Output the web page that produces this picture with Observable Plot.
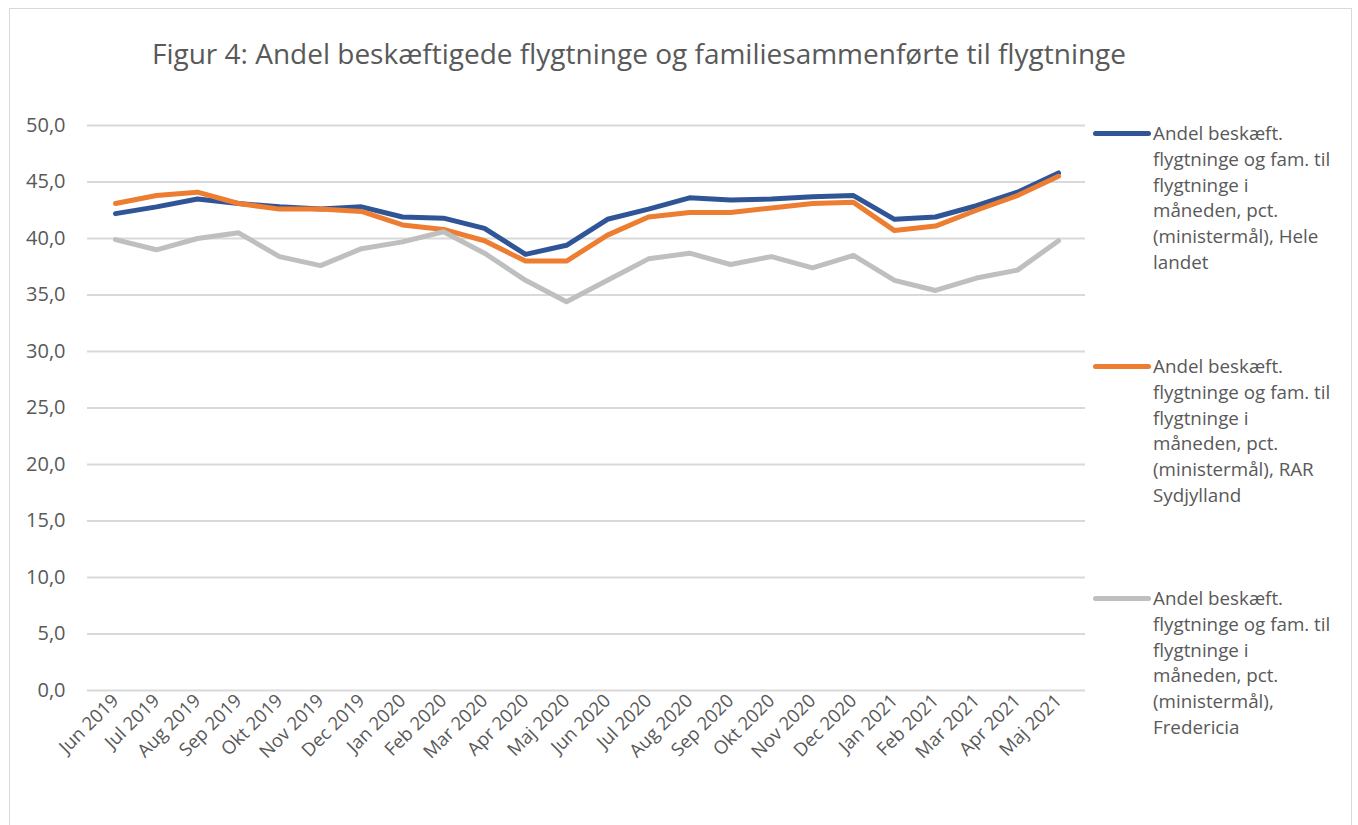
<!DOCTYPE html>
<html>
<head>
<meta charset="utf-8">
<script src="https://cdn.jsdelivr.net/npm/d3@7"></script>
<script src="https://cdn.jsdelivr.net/npm/@observablehq/plot@0.6"></script>
<style>
  html, body { margin: 0; padding: 0; background: #fff; }
  body { width: 1358px; height: 825px; position: relative; overflow: hidden; font-family: "Open Sans", sans-serif; color: #595959; }
  #frame { position: absolute; left: 9px; top: 8px; width: 1343px; height: 830px; border: 1.5px solid #d9d9d9; box-sizing: border-box; }
  #title { position: absolute; left: 0; width: 1278px; top: 34px; text-align: center; font-size: 28px; color: #595959; white-space: nowrap; }
  #chart { position: absolute; left: 0; top: 0; }
  .leg { position: absolute; left: 1093px; font-size: 18.8px; line-height: 25.8px; color: #595959; }
  .leg .sw { position: absolute; left: 0; top: 9px; width: 58px; height: 5px; border-radius: 3px; }
  .leg .tx { position: absolute; left: 60px; top: -1px; white-space: nowrap; }
</style>
</head>
<body>
<div id="frame"></div>
<div id="title">Figur 4: Andel beskæftigede flygtninge og familiesammenførte til flygtninge</div>
<div id="chart"></div>
<div id="legend"></div>
<script>
const months = ["Jun 2019","Jul 2019","Aug 2019","Sep 2019","Okt 2019","Nov 2019","Dec 2019","Jan 2020","Feb 2020","Mar 2020","Apr 2020","Maj 2020","Jun 2020","Jul 2020","Aug 2020","Sep 2020","Okt 2020","Nov 2020","Dec 2020","Jan 2021","Feb 2021","Mar 2021","Apr 2021","Maj 2021"];

const seriesNames = [
  "Andel beskæft. flygtninge og fam. til flygtninge i måneden, pct. (ministermål), Hele landet",
  "Andel beskæft. flygtninge og fam. til flygtninge i måneden, pct. (ministermål), RAR Sydjylland",
  "Andel beskæft. flygtninge og fam. til flygtninge i måneden, pct. (ministermål), Fredericia"
];
const legendLines = [
  ["Andel beskæft.", "flygtninge og fam. til", "flygtninge i", "måneden, pct.", "(ministermål), Hele", "landet"],
  ["Andel beskæft.", "flygtninge og fam. til", "flygtninge i", "måneden, pct.", "(ministermål), RAR", "Sydjylland"],
  ["Andel beskæft.", "flygtninge og fam. til", "flygtninge i", "måneden, pct.", "(ministermål),", "Fredericia"]
];
const seriesColors = ["#2f5597", "#ed7d31", "#bfbfbf"];

const heleLandet = [42.2,42.8,43.5,43.1,42.8,42.6,42.8,41.9,41.8,40.9,38.6,39.4,41.7,42.6,43.6,43.4,43.5,43.7,43.8,41.7,41.9,42.9,44.1,45.8];
const rarSydjylland = [43.1,43.8,44.1,43.1,42.6,42.6,42.4,41.2,40.8,39.8,38.0,38.0,40.3,41.9,42.3,42.3,42.7,43.1,43.2,40.7,41.1,42.5,43.8,45.5];
const fredericia = [39.9,39.0,40.0,40.5,38.4,37.6,39.1,39.7,40.6,38.7,36.3,34.4,36.3,38.2,38.7,37.7,38.4,37.4,38.5,36.3,35.4,36.5,37.2,39.8];

const yTicks = [0,5,10,15,20,25,30,35,40,45,50];

const values = [heleLandet, rarSydjylland, fredericia];
const data = [];
values.forEach((arr, s) => arr.forEach((v, i) => data.push({month: months[i], value: v, series: seriesNames[s]})));

const chart = Plot.plot({
  width: 1358,
  height: 825,
  marginLeft: 87,
  marginRight: 273,
  marginTop: 125,
  marginBottom: 135,
  style: { fontFamily: "'Open Sans', sans-serif", fontSize: "18px", color: "#595959", background: "transparent" },
  x: { type: "point", domain: months, padding: 0.5, label: null },
  y: { domain: [0, 50], label: null },
  color: { domain: seriesNames, range: seriesColors },
  marks: [
    Plot.ruleY(yTicks, { stroke: "#d9d9d9", strokeWidth: 2 }),
    Plot.axisY({ ticks: yTicks, tickSize: 0, tickPadding: 22, tickFormat: d => d.toFixed(1).replace(".", ","), fontSize: 20, fill: "#595959", label: null }),
    Plot.axisX({ tickSize: 0, tickRotate: -45, tickPadding: 7, fontSize: 18.5, fill: "#595959", label: null }),
    Plot.line(data, { x: "month", y: "value", stroke: "series", z: "series", strokeWidth: 5, strokeLinejoin: "round", strokeLinecap: "round" })
  ]
});
document.getElementById("chart").appendChild(chart);

const legTops = [122, 355, 587];
const legend = document.getElementById("legend");
seriesNames.forEach((name, i) => {
  const d = document.createElement("div");
  d.className = "leg";
  d.style.top = legTops[i] + "px";
  d.innerHTML = `<div class="sw" style="background:${seriesColors[i]}"></div><div class="tx">${legendLines[i].join("<br>")}</div>`;
  legend.appendChild(d);
});
</script>
</body>
</html>
